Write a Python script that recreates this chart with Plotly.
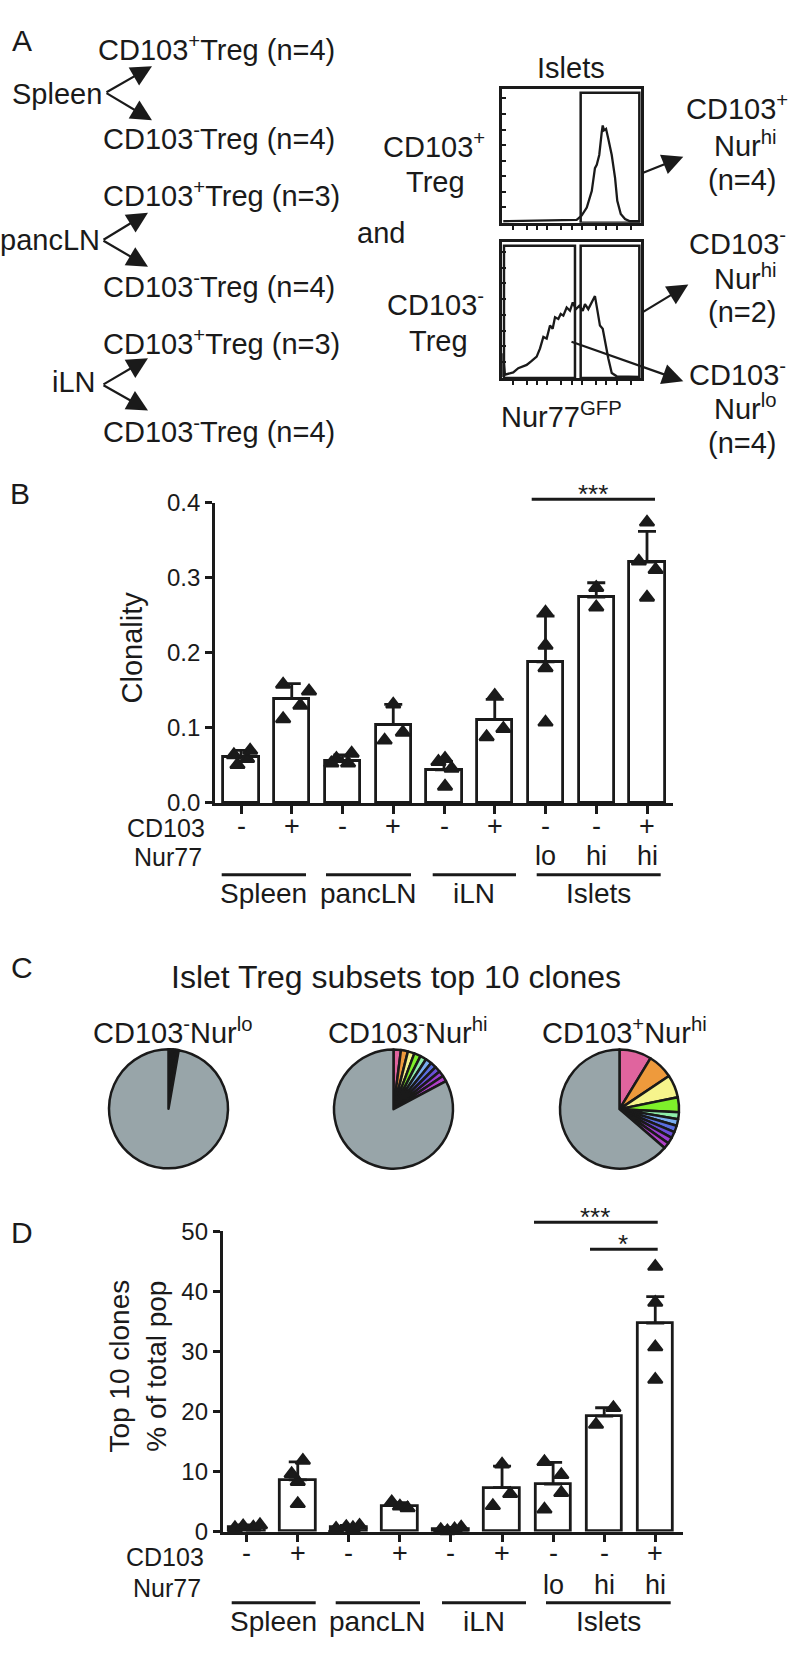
import math
import plotly.graph_objects as go

W, H = 793, 1655
FONT = "Liberation Sans, Arial, Helvetica, sans-serif"
INK = "#1a1a1a"

# ---------------- data ----------------
groups = ["Spleen", "pancLN", "iLN", "Islets"]
cd103_labels = ["-", "+", "-", "+", "-", "+", "-", "-", "+"]
nur77_labels = ["", "", "", "", "", "", "lo", "hi", "hi"]

clonality_mean = [0.062, 0.139, 0.056, 0.1045, 0.044, 0.111, 0.188, 0.2745, 0.321]
clonality_sd = [0.008, 0.020, 0.008, 0.027, 0.011, 0.027, 0.061, 0.019, 0.041]
clonality_points = [
    [0.064, 0.051, 0.059, 0.070],
    [0.158, 0.112, 0.130, 0.149],
    [0.053, 0.059, 0.053, 0.066],
    [0.0835, 0.1315, 0.094],
    [0.055, 0.059, 0.022, 0.046],
    [0.088, 0.143, 0.099],
    [0.254, 0.210, 0.180, 0.1075],
    [0.287, 0.261],
    [0.374, 0.322, 0.311, 0.274],
]

top10_mean = [0.8, 8.6, 0.7, 4.3, 0.4, 7.3, 7.9, 19.2, 34.7]
top10_sd = [0.3, 3.0, 0.3, 0.5, 0.3, 3.6, 3.6, 1.4, 4.4]
top10_points = [
    [0.6, 0.9, 0.7, 1.1],
    [9.6, 8.3, 11.8, 4.6],
    [0.5, 0.8, 0.6, 1.0],
    [4.9, 4.2, 3.9],
    [0.3, 0.1, 0.4, 0.7],
    [4.3, 11.2, 6.3],
    [11.6, 9.45, 6.45, 3.7],
    [17.8, 20.6],
    [44.1, 38.1, 30.7, 25.3],
]

pie_titles = ["CD103<sup>-</sup>Nur<sup>lo</sup>",
              "CD103<sup>-</sup>Nur<sup>hi</sup>",
              "CD103<sup>+</sup>Nur<sup>hi</sup>"]
clones_cd103neg_nurlo = [0.4, 0.35, 0.3, 0.3, 0.3, 0.25, 0.25, 0.2, 0.2, 0.2]
clones_cd103neg_nurhi = [2.0, 1.9, 1.8, 1.8, 1.7, 1.7, 1.6, 1.6, 1.5, 1.6]
clones_cd103pos_nurhi = [8.7, 6.9, 6.2, 4.0, 1.9, 1.8, 1.8, 1.7, 1.7, 1.6]

# Nur77-GFP histograms (x: GFP channel 0-100, y: % of max)
hist_cd103pos_x = [0.7, 44.0, 53.6, 57.2, 60.9, 64.5, 66.8, 68.1, 69.9, 71.7, 72.4, 73.3,
                   74.8, 76.4, 78.9, 81.3, 82.9, 85.4, 88.5, 92.1, 99.3]
hist_cd103pos_y = [1.2, 1.7, 2.2, 5.4, 11.4, 23.7, 40.8, 43.3, 50.6, 67.7, 72.6, 69.0,
                   70.1, 62.8, 50.6, 33.5, 16.4, 6.6, 2.9, 1.2, 1.2]
hist_cd103neg_x = [0.3, 0.5, 1.9, 4.3, 7.9, 11.5, 14.0, 17.6, 21.2, 24.8, 27.2, 29.6, 32.0,
                   34.4, 36.3, 38.0, 40.4, 42.1, 44.0, 46.4, 48.8, 50.8, 53.1, 55.5, 58.0,
                   59.6, 62.0, 64.5, 66.8, 68.8, 70.4, 72.4, 74.0, 76.4, 78.9, 82.5, 99.3]
hist_cd103neg_y = [0.7, 18.1, 2.4, 3.1, 4.1, 7.2, 8.4, 9.6, 12.5, 15.7, 21.7, 30.1, 28.9,
                   38.5, 36.2, 44.6, 43.4, 47.0, 45.8, 51.8, 49.4, 55.5, 50.6, 53.0, 49.4,
                   54.2, 50.6, 55.5, 60.2, 48.2, 38.5, 36.2, 26.5, 14.5, 3.6, 1.2, 0.7]

# ---------------- styles / positions ----------------
clone_colors = ["#e0649e", "#ee9a3c", "#f6f48c", "#7ef02a", "#8eeeaa",
                "#7aaef0", "#5a6ee0", "#6a4fd8", "#9a3ed0", "#b040c8"]
rest_color = "#98a5a9"
jitter_b = [[-0.14, -0.07, 0.12, 0.18], [-0.17, -0.17, 0.17, 0.34], [-0.22, -0.12, 0.11, 0.18],
            [-0.17, 0.0, 0.19], [-0.11, 0.02, 0.02, 0.15], [-0.16, 0.0, 0.17],
            [0, 0, 0, 0], [0, 0], [0, -0.16, 0.17, 0]]
jitter_d = [[-0.23, -0.07, 0.13, 0.26], [-0.12, 0.0, 0.1, 0.0], [-0.25, -0.05, 0.08, 0.21],
            [-0.16, 0.0, 0.15], [-0.2, -0.07, 0.07, 0.2], [-0.18, 0.0, 0.16],
            [-0.17, 0.16, 0.16, -0.17], [-0.16, 0.18], [0, 0, 0, 0]]


def PX(x):
    return x / W


def PY(y):
    return 1 - y / H


fig = go.Figure()
annotations = []
shapes = []


def text(x, y, s, size=29, xanchor="center", yanchor="middle", angle=0, xref="paper"):
    annotations.append(dict(
        x=x if xref != "paper" else PX(x), y=PY(y), xref=xref, yref="paper",
        text=s, showarrow=False, xanchor=xanchor, yanchor=yanchor, textangle=angle,
        font=dict(family=FONT, size=size, color=INK), align="center", borderpad=0))


def arrow(tx, ty, hx, hy):
    annotations.append(dict(
        x=PX(hx), y=PY(hy), xref="paper", yref="paper", ax=tx - hx, ay=ty - hy,
        axref="pixel", ayref="pixel", text="", showarrow=True, arrowhead=2,
        arrowsize=1.9, arrowwidth=2.2, arrowcolor=INK, standoff=0))


def hline(x0, x1, y, w=3):
    shapes.append(dict(type="line", xref="paper", yref="paper", x0=PX(x0), x1=PX(x1),
                       y0=PY(y), y1=PY(y), line=dict(color=INK, width=w)))


# ---------------- Panel A ----------------
text(22, 27, "A", size=30)
a_left = [
    (97, 35, "CD103<sup>+</sup>Treg (n=4)"),
    (102, 125, "CD103<sup>-</sup>Treg (n=4)"),
    (102, 183, "CD103<sup>+</sup>Treg (n=3)"),
    (102, 275, "CD103<sup>-</sup>Treg (n=4)"),
    (102, 333, "CD103<sup>+</sup>Treg (n=3)"),
    (102, 423, "CD103<sup>-</sup>Treg (n=4)"),
]
for x, y, s in a_left:
    text(x, y, s, size=29, xanchor="left")
text(103, 81, "Spleen", xanchor="right")
text(101, 230, "pancLN", xanchor="right")
text(97, 374, "iLN", xanchor="right")
for (vx, vy, ux, uy, dx, dy) in [(105, 80, 152, 53, 152, 108),
                                  (102, 230, 148, 202, 148, 257),
                                  (102, 377, 148, 350, 148, 403)]:
    arrow(vx, vy, ux, uy)
    arrow(vx, vy, dx, dy)

text(381, 223, "and")
text(571, 55, "Islets")
text(434, 133, "CD103<sup>+</sup>")
text(435, 171, "Treg")
text(436, 294, "CD103<sup>-</sup>")
text(438, 332, "Treg")
text(500, 408, "Nur77<sup>GFP</sup>", xanchor="left")

right_lbl = [(95, "CD103<sup>+</sup>", 737), (132, "Nur<sup>hi</sup>", 745), (169, "(n=4)", 742),
             (232, "CD103<sup>-</sup>", 737), (267, "Nur<sup>hi</sup>", 745), (303, "(n=2)", 742),
             (365, "CD103<sup>-</sup>", 737), (400, "Nur<sup>lo</sup>", 745), (436, "(n=4)", 742)]
for y, s, x in right_lbl:
    text(x, y, s)
arrow(641.7, 161.7, 683.3, 145)
arrow(641.7, 303.3, 688.3, 275)
arrow(570, 333.3, 683.3, 373.3)

# histograms
HX0, HX1 = 502.3, 641.0
fig.add_trace(go.Scatter(x=hist_cd103pos_x, y=hist_cd103pos_y, mode="lines",
                         line=dict(color=INK, width=2.3), xaxis="x3", yaxis="y3",
                         hoverinfo="skip", showlegend=False))
fig.add_trace(go.Scatter(x=hist_cd103neg_x, y=hist_cd103neg_y, mode="lines",
                         line=dict(color=INK, width=2.3), xaxis="x4", yaxis="y4",
                         hoverinfo="skip", showlegend=False))
for xr, yr, x0, x1 in [("x3", "y3", 56.5, 98.8), ("x4", "y4", 1.2, 52.4), ("x4", "y4", 56.5, 98.8)]:
    shapes.append(dict(type="rect", xref=xr, yref=yr, x0=x0, x1=x1, y0=0, y1=97.1,
                       line=dict(color=INK, width=2.5)))

hist_xticks = []
for d in (0, 25, 50, 75):
    for k in (1, 2, 5):
        v = d + 25 * math.log10(k)
        if 0 < v < 100:
            hist_xticks.append(v)
hist_yticks = [11.6 * k for k in range(1, 9)]


def hist_axes(ytop, ybot):
    xa = dict(domain=[PX(HX0), PX(HX1)], range=[0, 100], showline=True, mirror=True,
              linecolor=INK, linewidth=2.5, ticks="outside", ticklen=4, tickwidth=1.5,
              tickcolor=INK, tickmode="array", tickvals=hist_xticks, showticklabels=False,
              showgrid=False, zeroline=False, fixedrange=True)
    ya = dict(domain=[PY(ybot), PY(ytop)], range=[0, 100], showline=True, mirror=True,
              linecolor=INK, linewidth=2.5, ticks="inside", ticklen=4, tickwidth=1.5,
              tickcolor=INK, tickmode="array", tickvals=hist_yticks, showticklabels=False,
              showgrid=False, zeroline=False, fixedrange=True)
    return xa, ya


xa3, ya3 = hist_axes(76, 212.3)
xa4, ya4 = hist_axes(231.7, 370)
xa3["anchor"], ya3["anchor"] = "y3", "x3"
xa4["anchor"], ya4["anchor"] = "y4", "x4"

# ---------------- Panel B & D bar charts ----------------
cats = list(range(len(cd103_labels)))


def bar_panel(means, sds, points, jit, xa, ya, width):
    fig.add_trace(go.Bar(
        x=cats, y=means, width=width, xaxis=xa, yaxis=ya,
        marker=dict(color="white", line=dict(color=INK, width=2.8)),
        error_y=dict(type="data", symmetric=False, array=sds, arrayminus=[0] * len(sds),
                     color=INK, thickness=2.8, width=9),
        hoverinfo="skip", showlegend=False))
    px, py = [], []
    for i, (pts, js) in enumerate(zip(points, jit)):
        for v, j in zip(pts, js):
            px.append(i + j)
            py.append(v)
    fig.add_trace(go.Scatter(
        x=px, y=py, mode="markers", xaxis=xa, yaxis=ya, cliponaxis=False,
        marker=dict(symbol="triangle-up", size=12.5, color=INK,
                    line=dict(color=INK, width=2.2)),
        hoverinfo="skip", showlegend=False))


bar_panel(clonality_mean, clonality_sd, clonality_points, jitter_b, "x", "y", 0.69)
bar_panel(top10_mean, top10_sd, top10_points, jitter_d, "x2", "y2", 0.70)

B_L, B_R, B_T, B_B = 215, 673, 497, 802
D_L, D_R, D_T, D_B = 222.7, 682.7, 1237.3, 1542.7


def cat_x(left, right, first_center, step):
    return [(left - first_center) / step, (right - first_center) / step]


def bar_axes(l, r, t, b, xr, yr, yticks, yticktext, anchors):
    xa = dict(domain=[PX(l), PX(r)], range=xr, showline=True, linecolor=INK, linewidth=2.8,
              ticks="outside", ticklen=8, tickwidth=2.8, tickcolor=INK, tickmode="array",
              tickvals=cats, showticklabels=False, showgrid=False, zeroline=False,
              anchor=anchors[1], fixedrange=True)
    ya = dict(domain=[PY(b), PY(t)], range=yr, showline=True, linecolor=INK, linewidth=2.8,
              ticks="outside", ticklen=7, tickwidth=2.8, tickcolor=INK, tickmode="array",
              tickvals=yticks, ticktext=yticktext, showgrid=False, zeroline=False,
              tickfont=dict(family=FONT, size=24, color=INK), anchor=anchors[0],
              fixedrange=True)
    return xa, ya


b_yt = [0, 0.1, 0.2, 0.3, 0.4]
xa1, ya1 = bar_axes(B_L, B_R, B_T, B_B, cat_x(B_L, B_R, 241, 50.75), [0, 0.4],
                    b_yt, ["%.1f" % v for v in b_yt], ("x", "y"))
d_yt = [0, 10, 20, 30, 40, 50]
xa2, ya2 = bar_axes(D_L, D_R, D_T, D_B, cat_x(D_L, D_R, 246.7, 51.07), [0, 50],
                    d_yt, [str(v) for v in d_yt], ("x2", "y2"))

# Panel B texts
text(20, 487, "B", size=30)
text(132, 644, "Clonality", size=29, angle=-90)
text(206, 828, "CD103", size=25, xanchor="right")
text(203, 857, "Nur77", size=25, xanchor="right")
for i in cats:
    text(i, 825, cd103_labels[i], size=27, xref="x")
    if nur77_labels[i]:
        text(i, 856, nur77_labels[i], size=27, xref="x")
b_under = [(221.7, 306), (326, 411), (432.7, 516), (536.7, 660.7)]
for (x0, x1), g in zip(b_under, groups):
    hline(x0, x1, 875)
    text((x0 + x1) / 2, 894, g, size=28)
hline(531.7, 655, 493.3)
text(593, 487.5, "***", size=26)

# Panel C
text(22, 969, "C", size=30)
text(396, 979, "Islet Treg subsets top 10 clones", size=32)
pie_sets = [clones_cd103neg_nurlo, clones_cd103neg_nurhi, clones_cd103pos_nurhi]
pie_centers = [(168.5, 1113), (393.5, 1113.3), (619.5, 1113.3)]
pie_label_x = [172.5, 408, 624]
R = 60.5
for vals, (cx, cy), title, lx in zip(pie_sets, pie_centers, pie_titles, pie_label_x):
    fig.add_trace(go.Pie(
        values=vals + [100 - sum(vals)], sort=False, direction="clockwise", rotation=0,
        marker=dict(colors=clone_colors + [rest_color], line=dict(color=INK, width=2.5)),
        textinfo="none", hoverinfo="skip", showlegend=False,
        domain=dict(x=[PX(cx - R), PX(cx + R)], y=[PY(cy + R), PY(cy - R)])))
    text(lx, 1034, title, size=29)

# Panel D texts
text(22, 1239, "D", size=30)
text(138, 1375, "Top 10 clones<br>% of total pop", size=28, angle=-90)
text(205.5, 1569, "CD103", size=25, xanchor="right")
text(201.5, 1600, "Nur77", size=25, xanchor="right")
for i in cats:
    text(i, 1565, cd103_labels[i], size=27, xref="x2")
    if nur77_labels[i]:
        text(i, 1597, nur77_labels[i], size=27, xref="x2")
d_under = [(231.7, 315.7), (335.7, 420), (442, 526), (546, 670.7)]
for (x0, x1), g in zip(d_under, groups):
    hline(x0, x1, 1615)
    text((x0 + x1) / 2, 1634, g, size=28)
hline(534, 657.7, 1228.3)
text(595, 1222.5, "***", size=26)
hline(590, 657.7, 1255.7)
text(623, 1250.5, "*", size=26)

fig.update_layout(
    width=W, height=H, margin=dict(l=0, r=0, t=0, b=0),
    paper_bgcolor="white", plot_bgcolor="rgba(0,0,0,0)",
    showlegend=False, bargap=0,
    font=dict(family=FONT, color=INK),
    xaxis=xa1, yaxis=ya1, xaxis2=xa2, yaxis2=ya2,
    xaxis3=xa3, yaxis3=ya3, xaxis4=xa4, yaxis4=ya4,
    annotations=annotations, shapes=shapes,
)

fig.write_html("out.html", config={"displayModeBar": False},
               post_script="document.body.style.margin='0';document.body.style.padding='0';")
